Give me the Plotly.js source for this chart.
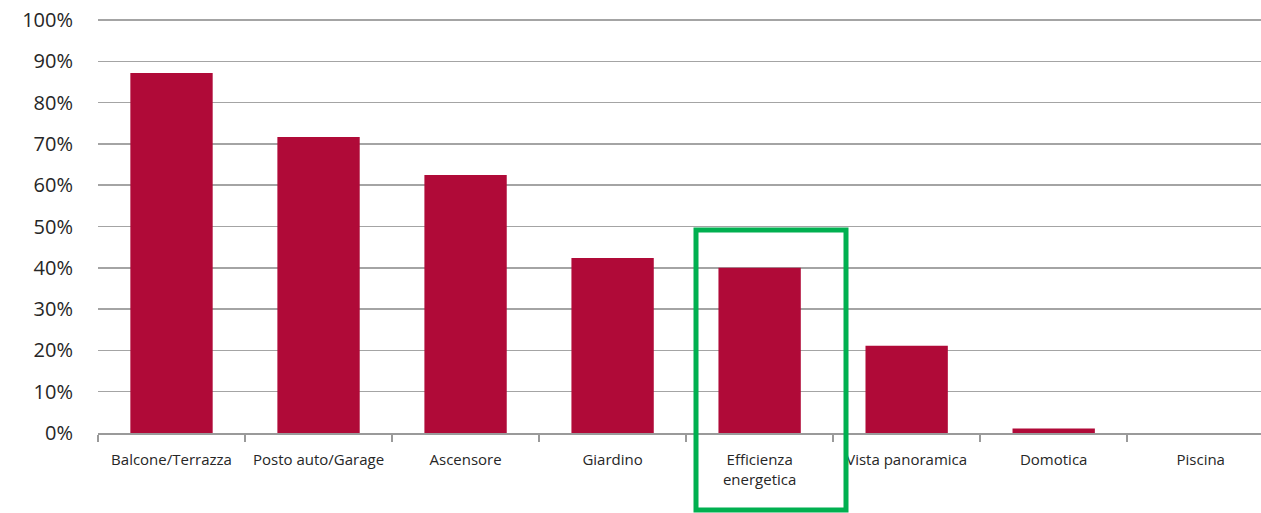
<!DOCTYPE html>
<html>
<head>
<meta charset="utf-8">
<script src="https://cdn.plot.ly/plotly-3.0.1.min.js"></script>
<style>html,body{margin:0;padding:0;background:#fff;}#chart{width:1261px;height:513px;}</style>
</head>
<body>
<div id="chart"></div>
<script>
const categories = ["Balcone/Terrazza", "Posto auto/Garage", "Ascensore", "Giardino", "Efficienza<br>energetica", "Vista panoramica", "Domotica", "Piscina"];
const values = [0.872, 0.717, 0.625, 0.424, 0.400, 0.211, 0.011, 0.0];
const yTickVals = [0, 0.1, 0.2, 0.3, 0.4, 0.5, 0.6, 0.7, 0.8, 0.9, 1.0];
const yTickText = ["0%", "10%", "20%", "30%", "40%", "50%", "60%", "70%", "80%", "90%", "100%"];

const W = 1261, H = 513;
const mL = 98, mR = 0, mT = 19, mB = 80;
const plotW = W - mL - mR, plotH = H - mT - mB;
const px = (x) => (x - mL) / plotW;
const py = (y) => (H - mB - y) / plotH;

const trace = {
  type: 'bar',
  x: categories,
  y: values,
  marker: {color: '#b00a38', line: {width: 0}},
  width: 0.56,
  hoverinfo: 'none'
};

const layout = {
  width: W, height: H,
  margin: {l: mL, r: mR, t: mT, b: mB, pad: 0},
  paper_bgcolor: '#ffffff',
  plot_bgcolor: '#ffffff',
  font: {family: 'Open Sans, Noto Sans, sans-serif', color: '#262626'},
  showlegend: false,
  xaxis: {
    type: 'category',
    range: [-0.5, 7.41],
    tickfont: {size: 15, color: '#262626'},
    showgrid: false,
    zeroline: false,
    showline: true,
    linecolor: '#9a9a9a',
    linewidth: 2,
    ticks: 'outside',
    tickson: 'boundaries',
    ticklen: 7,
    tickwidth: 2,
    tickcolor: '#9a9a9a',
    ticklabelstandoff: 12,
    fixedrange: true
  },
  yaxis: {
    range: [0, 1.0025],
    tickmode: 'array',
    tickvals: yTickVals,
    ticktext: yTickText,
    tickfont: {size: 20, color: '#262626'},
    showgrid: true,
    gridcolor: '#a4a4a4',
    gridwidth: 1.5,
    zeroline: false,
    showline: false,
    ticks: '',
    ticklabelstandoff: 24,
    fixedrange: true
  },
  shapes: [{
    type: 'rect',
    xref: 'paper', yref: 'paper',
    x0: px(696), x1: px(846),
    y0: py(510), y1: py(230),
    line: {color: '#00b050', width: 5},
    fillcolor: 'rgba(0,0,0,0)',
    layer: 'above'
  }]
};

Plotly.newPlot('chart', [trace], layout, {displayModeBar: false, staticPlot: true});
</script>
</body>
</html>
